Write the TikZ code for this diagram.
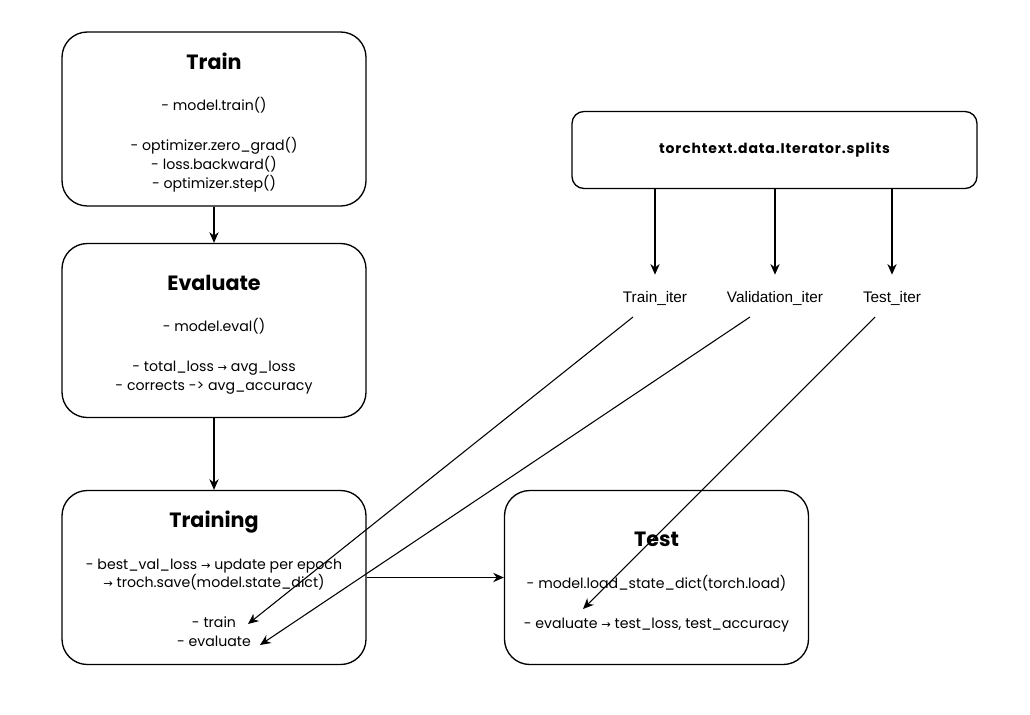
\documentclass[tikz,border=0pt]{standalone}
\usepackage{fontspec}
\setmainfont{Poppins}
\newfontfamily\labfont{Liberation Sans}
\newfontfamily\symfont{DejaVu Sans}
\newfontfamily\ttfont[LetterSpace=6]{Poppins}
\newcommand{\myra}{{\symfont\fontsize{8.5}{10}\selectfont →}}
\newcommand{\ttlfont}{\bfseries\fontsize{15.5}{18}\selectfont}
\usetikzlibrary{arrows.meta}
\begin{document}
\begin{tikzpicture}[x=0.75pt,y=-0.75pt,
  box/.style={draw=black,line width=1pt,rounded corners=19pt,fill=white,
    minimum width=228pt,minimum height=130.5pt,inner sep=0pt},
  txt/.style={align=center,inner sep=0pt,font=\fontsize{10.6}{14}\selectfont},
  ttbox/.style={draw=black,line width=1pt,rounded corners=9pt,fill=white,
    minimum width=303.75pt,minimum height=57.75pt,inner sep=0pt,
    font=\ttfont\bfseries\fontsize{10.5}{12}\selectfont},
  arr/.style={-{Stealth[length=8pt,width=7pt]},line width=0.8pt},
  lab/.style={font=\labfont\fontsize{11.5}{13}\selectfont,inner xsep=2pt,inner ysep=12pt}]
\useasboundingbox[fill=white] (0,0) rectangle (1030,714);

\node[box,label={[txt,yshift=-2.6pt]center:{{\ttlfont Train}\\[17pt]
  - model.train()\\[16pt]
  - optimizer.zero\_grad()\\
  - loss.backward()\\
  - optimizer.step()}}] (train) at (214,119) {};

\node[box,label={[txt,yshift=-3pt]center:{{\ttlfont Evaluate}\\[17pt]
  - model.eval()\\[16pt]
  - total\_loss \myra\ avg\_loss\\
  - corrects -> avg\_accuracy}}] (eval) at (214,330.5) {};

\node[box,label={[txt,yshift=-1.1pt]center:{{\ttlfont Training}\\[17pt]
  - best\_val\_loss \myra\ update per epoch\\
  \myra\ troch.save(model.state\_dict)\\[16pt]
  - train\\
  - evaluate}}] (training) at (214,577.5) {};

\node[box,label={[txt,yshift=-3.4pt]center:{{\ttlfont Test}\\[17pt]
  - model.load\_state\_dict(torch.load)\\[16pt]
  - evaluate \myra\ test\_loss, test\_accuracy}}] (test) at (656.5,577.5) {};

\node[ttbox] (tt) at (774.5,150) {torchtext.data.Iterator.splits};

\node[lab] (ti) at (655,298) {Train\_iter};
\node[lab] (vi) at (775,298) {Validation\_iter};
\node[lab] (tei) at (892,298) {Test\_iter};

\coordinate (tistart) at (633,317);
\coordinate (vistart) at (750,317);
\coordinate (teistart) at (875,317);
\coordinate (trainend) at (248,624);
\coordinate (evalend) at (260,645);
\coordinate (testend) at (583,609);

\draw[arr] (train.south) -- (eval.north);
\draw[arr] (eval.south) -- (training.north);
\draw[arr] (training.east) -- (test.west);

\draw[arr] (tt.south -| ti) -- (ti.north);
\draw[arr] (tt.south -| vi) -- (vi.north);
\draw[arr] (tt.south -| tei) -- (tei.north);

\draw[arr] (tistart) -- (trainend);
\draw[arr] (vistart) -- (evalend);
\draw[arr] (teistart) -- (testend);
\end{tikzpicture}
\end{document}
